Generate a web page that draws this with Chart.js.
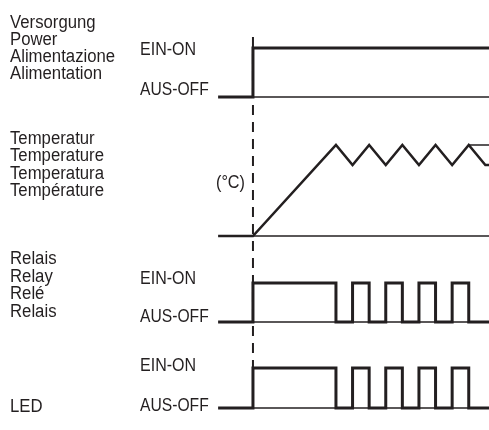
<!DOCTYPE html>
<html>
<head>
<meta charset="utf-8">
<script src="https://cdn.jsdelivr.net/npm/chart.js@4"></script>
<style>
  html, body { margin: 0; padding: 0; background: #ffffff; }
  #wrap { width: 489px; height: 430px; }
</style>
</head>
<body>
<div id="wrap"><canvas id="c" width="489" height="430"></canvas></div>
<script>
// ---- Data (time in half-cycle units, power switched on at t = 0) ----
const timeStart = -2.1;
const timeEnd = 14.22;
const powerOnTime = 0;

const powerTimes  = [timeStart, 0, 0, timeEnd];
const powerStates = [0, 0, 1, 1];

const tempTimes  = [timeStart, 0, 5, 6, 7, 8, 9, 10, 11, 12, 13, 14, timeEnd];
const tempValues = [0, 0, 1, 0.78, 1, 0.78, 1, 0.78, 1, 0.78, 1, 0.78, 0.78];
const setpointTimes  = [13, timeEnd];
const setpointValues = [1, 1];

const relayTimes  = [timeStart, 0, 0, 5, 5, 6, 6, 7, 7, 8, 8, 9, 9, 10, 10, 11, 11, 12, 12, 13, 13, timeEnd];
const relayStates = [0, 0, 1, 1, 0, 0, 1, 1, 0, 0, 1, 1, 0, 0, 1, 1, 0, 0, 1, 1, 0, 0];
const ledTimes  = relayTimes;
const ledStates = relayStates;

const titlePower = ["Versorgung", "Power", "Alimentazione", "Alimentation"];
const titleTemp  = ["Temperatur", "Temperature", "Temperatura", "Température"];
const titleRelay = ["Relais", "Relay", "Relé", "Relais"];
const titleLed   = ["LED"];
const stateOn  = "EIN-ON";
const stateOff = "AUS-OFF";
const tempUnit = "(°C)";

// ---- Layout (lane base line and amplitude in canvas px) ----
const INK = '#231f20';
const lanes = {
  power: { base: 97,  amp: 49 },
  temp:  { base: 236, amp: 91 },
  relay: { base: 322, amp: 39 },
  led:   { base: 408, amp: 40 }
};
const toY = (lane, v) => lanes[lane].base - v * lanes[lane].amp;
const series = (lane, ts, vs) => ts.map((t, i) => ({ x: t, y: toY(lane, vs[i]) }));
const baseline = (lane) => [{ x: powerOnTime, y: toY(lane, 0) }, { x: timeEnd, y: toY(lane, 0) }];

const thick = { borderColor: INK, borderWidth: 3, pointRadius: 0, showLine: true, tension: 0, fill: false, borderCapStyle: 'butt', borderJoinStyle: 'miter' };
const thin  = { borderColor: INK, borderWidth: 1.5, pointRadius: 0, showLine: true, tension: 0, fill: false };

const datasets = [
  Object.assign({}, thin, { label: 'marker', borderDash: [10, 7], borderWidth: 2,
    data: [{ x: powerOnTime, y: 37 }, { x: powerOnTime, y: 368 }] }),
  Object.assign({}, thin, { label: 'power base', data: baseline('power') }),
  Object.assign({}, thin, { label: 'temp base',  data: baseline('temp') }),
  Object.assign({}, thin, { label: 'relay base', data: baseline('relay') }),
  Object.assign({}, thin, { label: 'led base',   data: baseline('led') }),
  Object.assign({}, thin, { label: 'setpoint',   data: series('temp', setpointTimes, setpointValues) }),
  Object.assign({}, thick, { label: 'Power',       data: series('power', powerTimes, powerStates) }),
  Object.assign({}, thick, { label: 'Temperature', data: series('temp', tempTimes, tempValues), borderWidth: 2.5 }),
  Object.assign({}, thick, { label: 'Relay',       data: series('relay', relayTimes, relayStates) }),
  Object.assign({}, thick, { label: 'LED',         data: series('led', ledTimes, ledStates) })
];

const textPlugin = {
  id: 'labels',
  afterDraw(chart) {
    const ctx = chart.ctx;
    ctx.save();
    ctx.fillStyle = INK;
    ctx.font = '18px "Liberation Sans", Arial, sans-serif';
    ctx.textBaseline = 'alphabetic';
    ctx.textAlign = 'left';
    const put = (s, x, y, sx) => {
      ctx.save();
      ctx.translate(x, y);
      ctx.scale(sx, 1);
      ctx.fillText(s, 0, 0);
      ctx.restore();
    };
    const block = (lines, x, y0, dy) => lines.forEach((s, i) => put(s, x, y0 + i * dy, 0.93));
    block(titlePower, 10, 27.5, 17);
    block(titleTemp, 10, 143.5, 17.6);
    block(titleRelay, 10, 264, 17.6);
    block(titleLed, 10, 411.5, 18);
    put(stateOn, 140, 54.5, 0.89);
    put(stateOff, 140, 94.5, 0.87);
    put(stateOn, 140, 283.5, 0.89);
    put(stateOff, 140, 321.5, 0.87);
    put(stateOn, 140, 370.5, 0.89);
    put(stateOff, 140, 410.5, 0.87);
    put(tempUnit, 216, 187.5, 0.9);
    ctx.restore();
  }
};

new Chart(document.getElementById('c'), {
  type: 'scatter',
  data: { datasets },
  options: {
    responsive: false,
    animation: false,
    layout: { padding: 0 },
    plugins: { legend: { display: false }, tooltip: { enabled: false } },
    scales: {
      x: { type: 'linear', display: false, min: -15.24, max: 14.22 },
      y: { type: 'linear', display: false, min: 0, max: 430, reverse: true }
    }
  },
  plugins: [textPlugin]
});
</script>
</body>
</html>
